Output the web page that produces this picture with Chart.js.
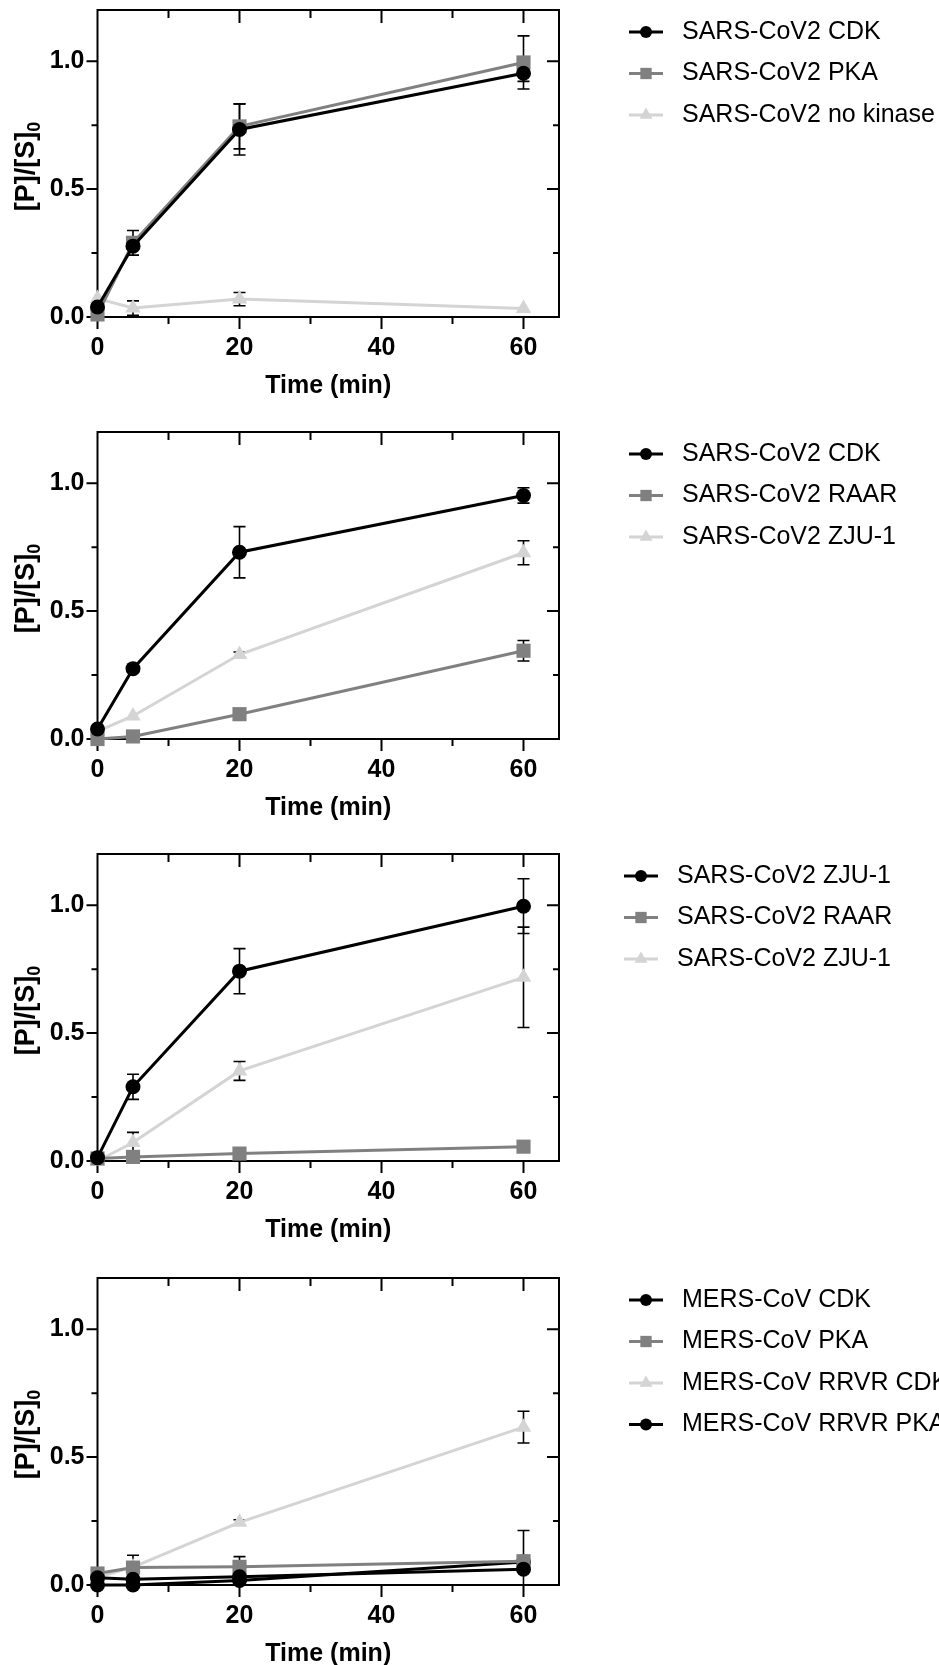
<!DOCTYPE html>
<html>
<head>
<meta charset="utf-8">
<script src="https://cdn.jsdelivr.net/npm/chart.js@4.4.1/dist/chart.umd.min.js"></script>
<style>
html, body { margin: 0; padding: 0; background: #fff; overflow: hidden; }
#wrap { position: relative; width: 939px; height: 1665px; overflow: hidden; }
#wrap canvas { position: absolute; left: 0; }
</style>
</head>
<body>
<div id="wrap">
  <canvas id="p1" width="939" height="422" style="top:0px"></canvas>
  <canvas id="p2" width="939" height="422" style="top:422px"></canvas>
  <canvas id="p3" width="939" height="422" style="top:844px"></canvas>
  <canvas id="p4" width="939" height="422" style="top:1268px"></canvas>
</div>
<script>
// shared axes
const timeMin = [0, 5, 20, 60];
const xTicks = [0, 20, 40, 60];
const xMinor = [10, 30, 50];
const yTicks = [0, 0.5, 1.0];
const yMinor = [0.25, 0.75];
const xRange = [0, 65];
const yRange = [0, 1.2];
const xTitle = "Time (min)";
const yTitle = "[P]/[S]";
const yTitleSub = "0";

// panel 1
const p1Labels = ["SARS-CoV2 CDK", "SARS-CoV2 PKA", "SARS-CoV2 no kinase"];
const p1Cdk = [0.039, 0.277, 0.733, 0.953];
const p1CdkErr = [0, 0.01, 0.1, 0.032];
const p1Pka = [0.01, 0.29, 0.745, 0.995];
const p1PkaErr = [0, 0.048, 0.088, 0.104];
const p1None = [0.072, 0.035, 0.07, 0.033];
const p1NoneErr = [0, 0.028, 0.026, 0];

// panel 2
const p2Labels = ["SARS-CoV2 CDK", "SARS-CoV2 RAAR", "SARS-CoV2 ZJU-1"];
const p2Cdk = [0.039, 0.275, 0.73, 0.952];
const p2CdkErr = [0, 0.01, 0.1, 0.03];
const p2Raar = [0.0, 0.01, 0.097, 0.345];
const p2RaarErr = [0, 0, 0.01, 0.04];
const p2Zju = [0.03, 0.09, 0.33, 0.728];
const p2ZjuErr = [0, 0, 0.01, 0.047];

// panel 3
const p3Labels = ["SARS-CoV2 ZJU-1", "SARS-CoV2 RAAR", "SARS-CoV2 ZJU-1"];
const p3Zju = [0.013, 0.29, 0.742, 0.996];
const p3ZjuErr = [0, 0.049, 0.088, 0.107];
const p3Raar = [0.01, 0.016, 0.029, 0.056];
const p3RaarErr = [0, 0, 0, 0];
const p3Zju2 = [0.0, 0.072, 0.352, 0.718];
const p3Zju2Err = [0, 0.04, 0.037, 0.196];

// panel 4
const p4Labels = ["MERS-CoV CDK", "MERS-CoV PKA", "MERS-CoV RRVR CDK", "MERS-CoV RRVR PKA"];
const p4Cdk = [0.028, 0.022, 0.032, 0.062];
const p4CdkErr = [0.01, 0.01, 0.01, 0.01];
const p4Pka = [0.045, 0.068, 0.071, 0.093];
const p4PkaErr = [0.012, 0.048, 0.04, 0.12];
const p4RrvrCdk = [0.03, 0.07, 0.245, 0.617];
const p4RrvrCdkErr = [0, 0, 0.01, 0.062];
const p4RrvrPka = [0.0, 0.0, 0.018, 0.09];
const p4RrvrPkaErr = [0, 0, 0.01, 0.01];

const BLACK = "#000000", GRAY = "#808080", LIGHT = "#d4d4d4";
const FONT = '"Liberation Sans", Arial, sans-serif';

const styles = {
    circle: { color: BLACK, pointStyle: "circle", r: 7.5, lr: 6 },
    rect: { color: GRAY, pointStyle: "rect", r: 10, lr: 8 },
    tri: { color: LIGHT, pointStyle: "triangle", r: 9, lr: 7.5 },
};

function series(label, values, errors, st) {
    return {
        label: label,
        data: timeMin.map((t, i) => ({ x: t, y: values[i] })),
        errors: errors,
        borderColor: st.color,
        backgroundColor: st.color,
        borderWidth: 3,
        pointStyle: st.pointStyle,
        pointRadius: st.r,
        pointBorderWidth: 0,
        legendRadius: st.lr,
        clip: false,
        tension: 0,
    };
}

// frame, mirrored ticks, error bars, titles and legend (Prism look)
const prismAxes = {
    id: "prismAxes",
    beforeDatasetsDraw(chart) {
        const { ctx, chartArea: a, scales: { x, y } } = chart;
        ctx.save();
        ctx.strokeStyle = "#000";
        ctx.lineWidth = 2;
        ctx.beginPath();
        ctx.rect(a.left, a.top, a.right - a.left, a.bottom - a.top);
        const tick = (vals, major) => {
            vals.forEach((v) => {
                const px = x.getPixelForValue(v);
                ctx.moveTo(px, a.bottom);
                ctx.lineTo(px, a.bottom + (major ? 12 : 7));
                ctx.moveTo(px, a.top);
                ctx.lineTo(px, a.top + (major ? 13 : 8));
            });
        };
        const ytick = (vals, major) => {
            vals.forEach((v) => {
                const py = y.getPixelForValue(v);
                ctx.moveTo(a.left, py);
                ctx.lineTo(a.left - (major ? 11 : 6), py);
                ctx.moveTo(a.right, py);
                ctx.lineTo(a.right - (major ? 12 : 6), py);
            });
        };
        tick(xTicks, true);
        tick(xMinor, false);
        ytick(yTicks, true);
        ytick(yMinor, false);
        ctx.stroke();

        // error bars
        ctx.lineWidth = 1.6;
        chart.data.datasets.forEach((ds) => {
            ds.data.forEach((pt, j) => {
                const e = ds.errors[j];
                if (!e) return;
                const px = x.getPixelForValue(pt.x);
                const hiV = pt.y + e, loV = pt.y - e;
                const hi = y.getPixelForValue(Math.min(hiV, yRange[1]));
                const lo = y.getPixelForValue(Math.max(loV, yRange[0]));
                ctx.beginPath();
                ctx.moveTo(px, hi);
                ctx.lineTo(px, lo);
                if (hiV <= yRange[1]) { ctx.moveTo(px - 6, hi); ctx.lineTo(px + 6, hi); }
                if (loV >= yRange[0]) { ctx.moveTo(px - 6, lo); ctx.lineTo(px + 6, lo); }
                ctx.stroke();
            });
        });
        ctx.restore();
    },
    afterDraw(chart, args, opts) {
        const { ctx, chartArea: a } = chart;
        ctx.save();
        ctx.fillStyle = "#000";
        // x title
        ctx.font = "bold 25px " + FONT;
        ctx.textAlign = "center";
        ctx.textBaseline = "middle";
        ctx.fillText(xTitle, (a.left + a.right) / 2, a.bottom + 69);
        // y title with subscript
        ctx.save();
        ctx.translate(24, (a.top + a.bottom) / 2 + 3);
        ctx.rotate(-Math.PI / 2);
        ctx.textAlign = "left";
        ctx.textBaseline = "alphabetic";
        ctx.font = "bold 27px " + FONT;
        const w1 = ctx.measureText(yTitle).width;
        ctx.font = "bold 18px " + FONT;
        const w2 = ctx.measureText(yTitleSub).width;
        const start = -(w1 + w2) / 2;
        ctx.font = "bold 27px " + FONT;
        ctx.fillText(yTitle, start, 9.5);
        ctx.font = "bold 18px " + FONT;
        ctx.fillText(yTitleSub, start + w1, 15.5);
        ctx.restore();

        // legend
        ctx.font = "25px " + FONT;
        ctx.textAlign = "left";
        ctx.textBaseline = "middle";
        chart.data.datasets.forEach((ds, i) => {
            const ly = opts.legendY + i * opts.legendGap;
            const mx = opts.legendX;
            ctx.strokeStyle = ds.borderColor;
            ctx.fillStyle = ds.borderColor;
            ctx.lineWidth = 3;
            ctx.beginPath();
            ctx.moveTo(mx - 17, ly);
            ctx.lineTo(mx + 17, ly);
            ctx.stroke();
            Chart.helpers.drawPoint(ctx, { pointStyle: ds.pointStyle, radius: ds.legendRadius, rotation: 0, borderWidth: 0 }, mx, ly);
            ctx.fillStyle = "#000";
            ctx.fillText(ds.label, mx + 36, ly);
        });
        ctx.restore();
    },
};

function makeChart(id, datasets, legendX) {
    return new Chart(document.getElementById(id), {
        type: "line",
        data: { datasets: datasets },
        options: {
            responsive: false,
            animation: false,
            events: [],
            layout: { padding: { top: 10, right: 380, left: 0, bottom: 0 } },
            scales: {
                x: {
                    type: "linear",
                    min: xRange[0],
                    max: xRange[1],
                    afterBuildTicks: (s) => { s.ticks = xTicks.map((v) => ({ value: v })); },
                    afterFit: (s) => { s.height = 105; s.paddingLeft = 0; s.paddingRight = 0; },
                    grid: { display: false, drawTicks: false },
                    border: { display: false },
                    ticks: { padding: 16, color: "#000", font: { family: FONT, size: 25, weight: "bold" }, maxRotation: 0 },
                },
                y: {
                    min: yRange[0],
                    max: yRange[1],
                    afterBuildTicks: (s) => { s.ticks = yTicks.map((v) => ({ value: v })); },
                    afterFit: (s) => { s.width = 97.5; s.paddingTop = 0; s.paddingBottom = 0; },
                    grid: { display: false, drawTicks: false },
                    border: { display: false },
                    ticks: { padding: 13, color: "#000", font: { family: FONT, size: 25, weight: "bold" }, callback: (v) => v.toFixed(1) },
                },
            },
            plugins: {
                legend: { display: false },
                tooltip: { enabled: false },
                prismAxes: { legendX: legendX, legendY: 32, legendGap: 41.5 },
            },
        },
        plugins: [prismAxes],
    });
}

makeChart("p1", [
    series(p1Labels[0], p1Cdk, p1CdkErr, styles.circle),
    series(p1Labels[1], p1Pka, p1PkaErr, styles.rect),
    series(p1Labels[2], p1None, p1NoneErr, styles.tri),
], 646);

makeChart("p2", [
    series(p2Labels[0], p2Cdk, p2CdkErr, styles.circle),
    series(p2Labels[1], p2Raar, p2RaarErr, styles.rect),
    series(p2Labels[2], p2Zju, p2ZjuErr, styles.tri),
], 646);

makeChart("p3", [
    series(p3Labels[0], p3Zju, p3ZjuErr, styles.circle),
    series(p3Labels[1], p3Raar, p3RaarErr, styles.rect),
    series(p3Labels[2], p3Zju2, p3Zju2Err, styles.tri),
], 641);

makeChart("p4", [
    series(p4Labels[0], p4Cdk, p4CdkErr, styles.circle),
    series(p4Labels[1], p4Pka, p4PkaErr, styles.rect),
    series(p4Labels[2], p4RrvrCdk, p4RrvrCdkErr, styles.tri),
    series(p4Labels[3], p4RrvrPka, p4RrvrPkaErr, styles.circle),
], 646);
</script>
</body>
</html>
